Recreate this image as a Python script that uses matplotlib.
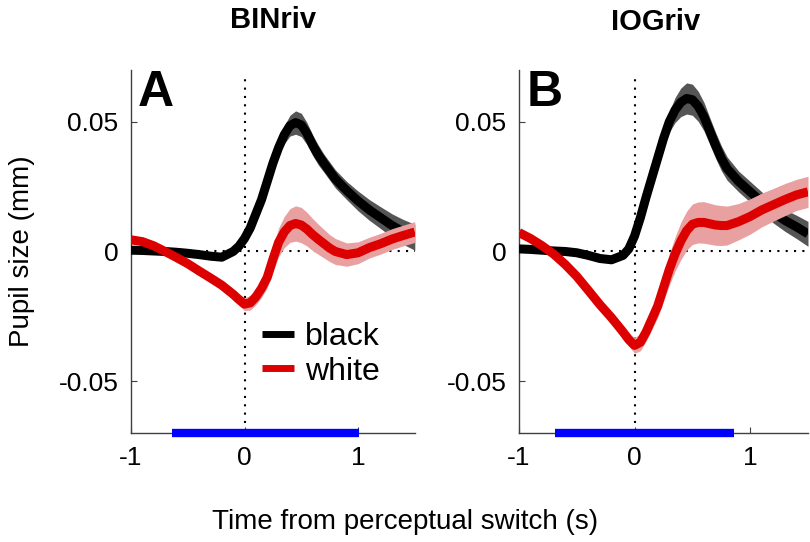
"""Pupil response around perceptual switches, BINriv vs IOGriv (black / white)."""
import numpy as np
import matplotlib
matplotlib.use("Agg")
import matplotlib.pyplot as plt

plt.rcParams["font.family"] = ["Liberation Sans", "DejaVu Sans"]

# time from perceptual switch (s)
T = [-1.0, -0.9, -0.8, -0.7, -0.6, -0.5, -0.4, -0.3, -0.2, -0.1,
     -0.05, 0.0, 0.05, 0.1, 0.15, 0.2, 0.25, 0.3, 0.35, 0.4, 0.45, 0.5, 0.55,
     0.6, 0.65, 0.7, 0.75, 0.8,
     0.9, 1.0, 1.1, 1.2, 1.3, 1.4, 1.5]

# panel A: BINriv
binriv_black = [0.0005, 0.0004, 0.0002, 0.0, -0.0003, -0.0007, -0.0012, -0.0018, -0.0022, 0.0,
                0.002, 0.005, 0.009, 0.0145, 0.020, 0.027, 0.034, 0.040, 0.045, 0.0485,
                0.0497, 0.0488, 0.0455, 0.041, 0.0372, 0.034, 0.031, 0.028,
                0.0235, 0.0195, 0.016, 0.013, 0.010, 0.0075, 0.0055]
binriv_black_sem = [0.0008] * 10 + [
                0.0009, 0.001, 0.0012, 0.0015, 0.0018, 0.002, 0.0025, 0.003, 0.0035, 0.004,
                0.0045, 0.0045, 0.0042, 0.004, 0.0038, 0.0035, 0.0035, 0.0035,
                0.0035, 0.0038, 0.004, 0.0042, 0.0045, 0.0048, 0.005]
binriv_white = [0.0045, 0.0038, 0.0022, 0.0, -0.0023, -0.0047, -0.0075, -0.0102, -0.013, -0.0165,
                -0.0185, -0.0203, -0.0198, -0.0175, -0.0142, -0.010, -0.003, 0.0035, 0.0075, 0.0100,
                0.0108, 0.0102, 0.0086, 0.0065, 0.0047, 0.003, 0.0013, 0.0,
                -0.0012, -0.0005, 0.0015, 0.003, 0.0048, 0.0062, 0.0075]
binriv_white_sem = [0.001] * 6 + [0.0012, 0.0014, 0.0017, 0.002,
                0.0022, 0.0025, 0.0028, 0.003, 0.0035, 0.004, 0.0048, 0.0055, 0.006, 0.0065,
                0.0068, 0.0068, 0.0065, 0.0062, 0.0058, 0.0055, 0.0052, 0.005,
                0.0045, 0.0042, 0.004, 0.004, 0.004, 0.004, 0.004]

# panel B: IOGriv
iogriv_black = [0.001, 0.0008, 0.0005, 0.0002, 0.0, -0.0005, -0.0015, -0.0027, -0.0032, -0.0015,
                0.001, 0.006, 0.013, 0.021, 0.0285, 0.036, 0.0435, 0.050, 0.0545, 0.0575,
                0.059, 0.0585, 0.056, 0.052, 0.0465, 0.041, 0.036, 0.032,
                0.027, 0.023, 0.019, 0.015, 0.012, 0.0095, 0.0068]
iogriv_black_sem = [0.0008] * 10 + [
                0.001, 0.0012, 0.0015, 0.002, 0.0025, 0.003, 0.0035, 0.004, 0.0048, 0.0055,
                0.006, 0.006, 0.0058, 0.0055, 0.0052, 0.005, 0.0048, 0.0045,
                0.004, 0.004, 0.004, 0.004, 0.0042, 0.0045, 0.0048]
iogriv_white = [0.0073, 0.005, 0.0022, -0.001, -0.005, -0.0096, -0.015, -0.0205, -0.0255, -0.031,
                -0.034, -0.0362, -0.035, -0.031, -0.026, -0.021, -0.014, -0.007, -0.001, 0.004,
                0.008, 0.0105, 0.0112, 0.0112, 0.0107, 0.0102, 0.010, 0.0100,
                0.0115, 0.0135, 0.016, 0.018, 0.020, 0.0218, 0.023]
iogriv_white_sem = [0.001] * 6 + [0.0012, 0.0015, 0.0018, 0.0022,
                0.0026, 0.003, 0.0033, 0.0036, 0.004, 0.0045, 0.0052, 0.006, 0.0066, 0.0072,
                0.0075, 0.0078, 0.0079, 0.008, 0.0079, 0.0078, 0.0077, 0.0075,
                0.007, 0.0068, 0.0065, 0.0063, 0.0062, 0.006, 0.006]

# significant-difference windows (s)
binriv_sig = [-0.64, 1.01]
iogriv_sig = [-0.69, 0.86]

PANELS = [
    ("A", "BINriv", binriv_black, binriv_black_sem, binriv_white, binriv_white_sem, binriv_sig),
    ("B", "IOGriv", iogriv_black, iogriv_black_sem, iogriv_white, iogriv_white_sem, iogriv_sig),
]

BLACK, BLACK_BAND = "#000000", "#555555"
RED, RED_BAND = "#dd0000", "#e8a0a0"

fig = plt.figure(figsize=(8.1, 5.42), dpi=100)
axes = [fig.add_axes([0.1617, 0.201, 0.3504, 0.670]),
        fig.add_axes([0.6407, 0.201, 0.3568, 0.670])]

t = np.array(T)
for ax, (letter, title, blk, blk_s, wht, wht_s, sig) in zip(axes, PANELS):
    blk, blk_s = np.array(blk), np.array(blk_s)
    wht, wht_s = np.array(wht), np.array(wht_s)

    ax.plot([0, 0], [-0.066, 0.067], ls=(0, (1, 3)), color="k", lw=1.5, zorder=1)
    ax.plot([-1, 1.5], [0, 0], ls=(0, (1, 3)), color="k", lw=1.5, zorder=3)

    ax.fill_between(t, blk - blk_s, blk + blk_s, color=BLACK_BAND, lw=0, zorder=2)
    ax.plot(t, blk, color=BLACK, lw=6.5, solid_capstyle="butt",
            solid_joinstyle="round", zorder=4, label="black")
    ax.fill_between(t, wht - wht_s, wht + wht_s, color=RED_BAND, lw=0, zorder=5)
    ax.plot(t, wht, color=RED, lw=6.5, solid_capstyle="butt",
            solid_joinstyle="round", zorder=6, label="white")

    ax.plot(sig, [-0.07, -0.07], color="#0000ff", lw=6, solid_capstyle="butt",
            clip_on=False, zorder=7)

    ax.set_xlim(-1, 1.5)
    ax.set_ylim(-0.07, 0.07)
    ax.set_xticks([-1, 0, 1])
    ax.set_xticklabels(["-1", "0", "1"])
    ax.set_yticks([-0.05, 0, 0.05])
    ax.set_yticklabels(["-0.05", "0", "0.05"])
    ax.tick_params(direction="in", length=4, width=0.8, labelsize=19, pad=9,
                   color="#404040")
    for side in ("top", "right"):
        ax.spines[side].set_visible(False)
    for side in ("left", "bottom"):
        ax.spines[side].set_color("#404040")
        ax.spines[side].set_linewidth(1.0)

    ax.text(0.025, 1.0, letter, transform=ax.transAxes, fontsize=36,
            fontweight="bold", va="top", ha="left")

fig.text(0.337, 0.963, "BINriv", fontsize=21, fontweight="bold", ha="center", va="center")
fig.text(0.809, 0.960, "IOGriv", fontsize=21, fontweight="bold", ha="center", va="center")

leg = axes[0].legend(loc="lower left", bbox_to_anchor=(0.462, 0.128), frameon=False,
                     fontsize=23, handlelength=1.0, handletextpad=0.35,
                     labelspacing=0.15, borderaxespad=0.0, borderpad=0.0)
for h in leg.get_lines():
    h.set_linewidth(5)
    h.set_solid_capstyle("butt")

fig.text(0.027, 0.536, "Pupil size (mm)", rotation=90, fontsize=20,
         ha="center", va="center")
fig.text(0.5, 0.037, "Time from perceptual switch (s)", fontsize=20,
         ha="center", va="center")

fig.savefig("out.png", dpi=100)
